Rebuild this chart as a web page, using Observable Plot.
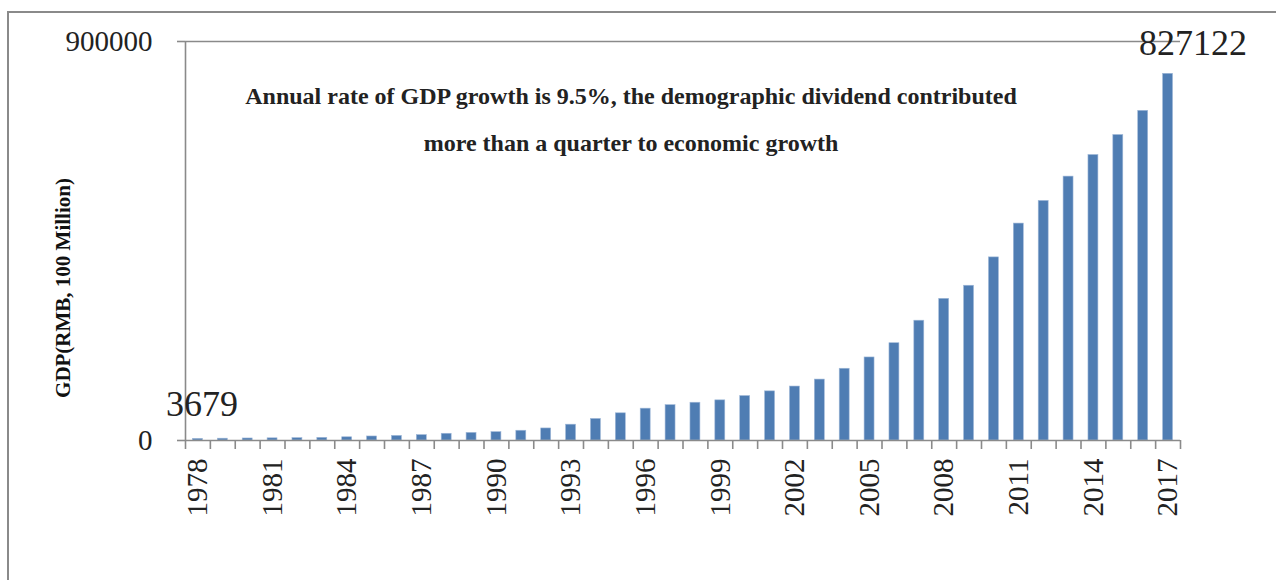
<!DOCTYPE html>
<html>
<head>
<meta charset="utf-8">
<script src="https://cdn.jsdelivr.net/npm/d3@7"></script>
<script src="https://cdn.jsdelivr.net/npm/@observablehq/plot@0.6"></script>
<style>
  html, body { margin: 0; padding: 0; background: #fff; overflow: hidden; }
  #wrap { position: relative; width: 1276px; height: 580px; }
  #border { position: absolute; left: 7px; top: 11px; width: 1400px; height: 700px;
            border-left: 2px solid #8a8a8a; border-top: 2px solid #8a8a8a; }
  #chart { position: absolute; left: 0; top: 0; }
</style>
</head>
<body>
<div id="wrap"><div id="border"></div><div id="chart"></div></div>
<script>
const years = d3.range(1978, 2018);
const gdp = [3679, 4100.5, 4587.6, 4935.8, 5373.4, 6020.9, 7278.5, 9098.9, 10376.2, 12174.6,
  15180.4, 17179.7, 18872.9, 22005.6, 27194.5, 35673.2, 48637.5, 61339.9, 71813.6, 79715.0,
  85195.5, 90564.4, 100280.1, 110863.1, 121717.4, 137422.0, 161840.2, 187318.9, 219438.5, 270232.3,
  319515.5, 349081.4, 413030.3, 489300.6, 540367.4, 595244.4, 643974.0, 689052.1, 743585.5, 827121.7];
const labelYears = d3.range(1978, 2018, 3);
const yTicks = [0, 900000];
const yTitle = "GDP(RMB, 100 Million)";
const note = "Annual rate of GDP growth is 9.5%, the demographic dividend contributed\nmore than a quarter to economic growth";

const data = years.map((y, i) => ({year: y, value: gdp[i]}));
const boundaries = years.map(y => y - 0.5).concat([years[years.length - 1] + 0.5]);
const first = [data[0]];
const last = [data[data.length - 1]];
const serif = "'Liberation Serif', 'Times New Roman', serif";
const axisColor = "#8a8a8a";

const chart = Plot.plot({
  width: 1276,
  height: 580,
  marginLeft: 185,
  marginRight: 96,
  marginTop: 41,
  marginBottom: 140,
  style: {fontFamily: serif, background: "transparent", overflow: "visible"},
  x: {type: "linear", domain: [1977.5, 2017.5]},
  y: {domain: [0, 900000]},
  marks: [
    Plot.rectY(data, {x1: d => d.year - 0.2, x2: d => d.year + 0.2, y1: 0, y2: "value",
      fill: "#4f7db3", stroke: "#9fb8d8", strokeWidth: 0.6}),
    Plot.ruleY(yTicks, {stroke: axisColor, strokeWidth: 1.6}),
    Plot.axisX(boundaries, {tickSize: 9, tickFormat: () => "", stroke: axisColor, strokeWidth: 1.6, label: null}),
    Plot.axisX(labelYears, {tickSize: 0, tickRotate: -90, tickPadding: 18, tickFormat: d => String(d),
      fontSize: 29, fill: "#222", label: null}),
    Plot.axisY(yTicks, {tickSize: 8, tickPadding: 25, tickFormat: d => String(d), fontSize: 29,
      fill: "#222", stroke: axisColor, strokeWidth: 1.6, label: null}),
    Plot.ruleX([boundaries[0]], {y1: 0, y2: 900000, stroke: axisColor, strokeWidth: 1.6}),
    Plot.text(first, {x: "year", y: "value", text: d => String(Math.round(d.value)), fontSize: 36,
      fill: "#222", textAnchor: "middle", lineAnchor: "bottom", dx: 4, dy: -23}),
    Plot.text(last, {x: "year", y: "value", text: d => String(Math.round(d.value)), fontSize: 36,
      fill: "#222", textAnchor: "middle", lineAnchor: "bottom", dx: 25, dy: -19}),
    Plot.text([note], {frameAnchor: "top", dx: -52, dy: 29, lineAnchor: "top", fontSize: 24,
      fontWeight: "bold", fill: "#222", lineHeight: 1.96}),
    Plot.text([yTitle], {frameAnchor: "left", dx: -122, dy: 47, rotate: -90, fontSize: 21,
      fontWeight: "bold", fill: "#111", textAnchor: "middle"})
  ]
});
document.getElementById("chart").appendChild(chart);
</script>
</body>
</html>
